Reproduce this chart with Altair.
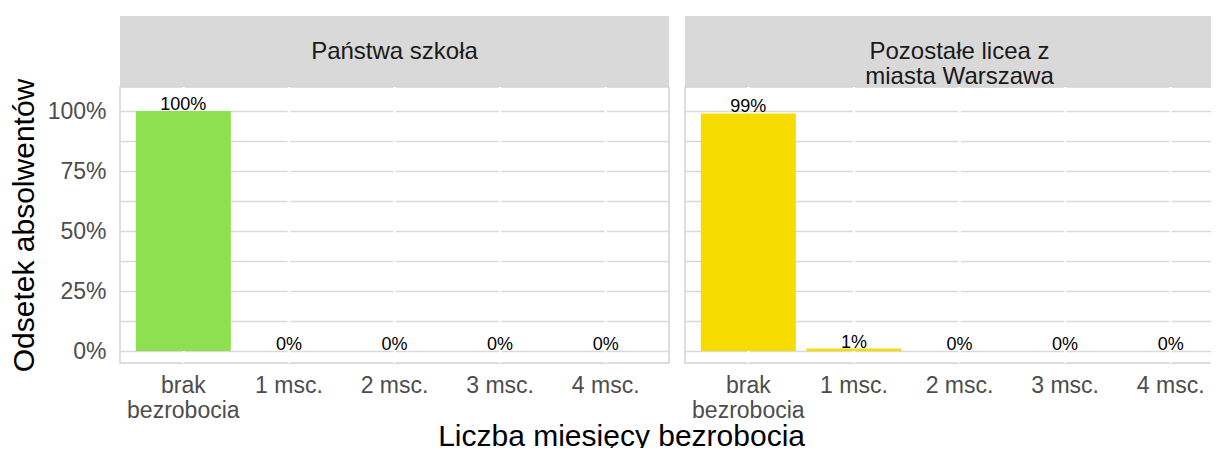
import altair as alt
import pandas as pd

categories = ["brak\nbezrobocia", "1 msc.", "2 msc.", "3 msc.", "4 msc."]
panel_names = ["Państwa szkoła", "Pozostałe licea z\nmiasta Warszawa"]
values_school = [100, 0, 0, 0, 0]
values_others = [99, 1, 0, 0, 0]
labels_school = ["100%", "0%", "0%", "0%", "0%"]
labels_others = ["99%", "1%", "0%", "0%", "0%"]
colors = ["#8fe051", "#f7dc00"]
y_grid = [0, 12.5, 25, 37.5, 50, 62.5, 75, 87.5, 100]

FONT = "Liberation Sans"
FULL_W = 549
PLOT_H = 276
STRIP_H = 71


def panel(vals, labs, color, name, first, width):
    df = pd.DataFrame({"cat": categories, "val": vals, "lab": labs})
    xscale = alt.Scale(domain=categories, paddingInner=0.1, paddingOuter=0.15,
                       range=[0, FULL_W])
    x = alt.X("cat:N", sort=categories, scale=xscale,
              axis=alt.Axis(title=None, labelExpr="split(datum.label, '\\n')",
                            labelFontSize=23, labelColor="#4d4d4d", labelFont=FONT,
                            labelLineHeight=25, labelPadding=11, ticks=False,
                            domain=False, grid=False, labelAngle=0))
    yscale = alt.Scale(domain=[-5, 110], nice=False, zero=False)
    if first:
        yaxis = alt.Axis(values=y_grid,
                         labelExpr="datum.value % 25 == 0 ? datum.value + '%' : ''",
                         title="Odsetek absolwentów", titleFontSize=30,
                         titleFontWeight="normal", titleColor="black", titleFont=FONT,
                         labelFontSize=23, labelColor="#4d4d4d", labelFont=FONT,
                         ticks=False, domain=False, gridColor="#d9d9d9",
                         gridWidth=1.5, labelPadding=14, titlePadding=8)
    else:
        yaxis = alt.Axis(values=y_grid, labels=False, title=None, ticks=False,
                         domain=False, gridColor="#d9d9d9", gridWidth=1.5)
    y = alt.Y("val:Q", scale=yscale, axis=yaxis)
    base = alt.Chart(df)
    rules = base.mark_rule(color="white", strokeWidth=2.5).encode(x=x)
    bars = base.mark_bar(color=color).encode(x=x, y=y)
    texts = base.mark_text(baseline="alphabetic", dy=-1, fontSize=18,
                           color="black", font=FONT).encode(x=x, y=y, text="lab:N")
    plot = alt.layer(rules, bars, texts).properties(
        width=width, height=PLOT_H,
        view=alt.ViewBackground(fill="white", stroke="#d4d4d4", strokeWidth=1.5))
    sdf = pd.DataFrame({"t": [name]})
    strip = alt.Chart(sdf).mark_text(fontSize=24, color="#1a1a1a", font=FONT,
                                     lineBreak="\n", lineHeight=25,
                                     baseline="middle", align="center").encode(
        text="t:N", x=alt.value(FULL_W / 2), y=alt.value(STRIP_H / 2)
    ).properties(width=width, height=STRIP_H,
                 view=alt.ViewBackground(fill="#d9d9d9", stroke=None))
    return alt.vconcat(strip, plot, spacing=0, bounds="flush")


p1 = panel(values_school, labels_school, colors[0], panel_names[0], True, FULL_W)
p2 = panel(values_others, labels_others, colors[1], panel_names[1], False, 529)

chart = alt.hconcat(p1, p2, spacing=14).properties(
    padding={"left": 0, "top": 8, "right": -24, "bottom": -4},
    title=alt.TitleParams(text="Liczba miesięcy bezrobocia", orient="bottom",
                          anchor="middle", fontSize=30, fontWeight="normal",
                          color="black", font=FONT, offset=-1),
).configure(font=FONT)

chart.save("out.html", embed_options={"renderer": "svg", "actions": False})
